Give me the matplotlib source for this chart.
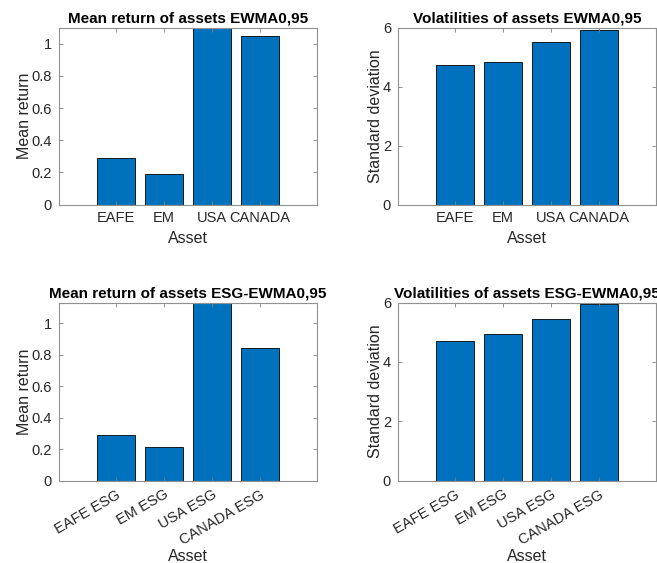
import numpy as np
import matplotlib.pyplot as plt

# === Datos ===
assets = ["EAFE", "EM", "USA", "CANADA"]
assets_esg = ["EAFE ESG", "EM ESG", "USA ESG", "CANADA ESG"]

mean_ewma = [0.29, 0.19, 1.10, 1.05]
vol_ewma = [4.75, 4.85, 5.50, 5.92]

mean_esg = [0.29, 0.21, 1.13, 0.845]
vol_esg = [4.71, 4.96, 5.46, 5.94]

# === Estilo tipo MATLAB ===
plt.rcParams["font.family"] = ["Liberation Sans", "DejaVu Sans"]
bar_color = "#0072BD"
axis_color = "#262626"

fig = plt.figure(figsize=(6.57, 5.63), dpi=100)
W, H = 657, 563


def make_ax(left, top, right, bottom):
    return fig.add_axes([left / W, 1 - bottom / H, (right - left) / W, (bottom - top) / H])


def panel(ax, labels, values, title, ylabel, ylim, yticks, rotate=False):
    x = np.arange(1, len(values) + 1)
    ax.bar(x, values, width=0.8, color=bar_color, edgecolor="black", linewidth=0.6)
    ax.set_xlim(-0.2, 5.2)
    ax.set_ylim(*ylim)
    ax.set_yticks(yticks)
    ax.set_yticklabels([f"{t:g}" for t in yticks])
    ax.set_xticks(x)
    if rotate:
        ax.set_xticklabels(labels, rotation=30, ha="right", rotation_mode="anchor")
    else:
        ax.set_xticklabels(labels)
    ax.tick_params(direction="in", top=True, right=True, length=3, width=0.6,
                   colors="#808080", labelcolor=axis_color, labelsize=10.5, pad=5)
    for s in ax.spines.values():
        s.set_color("#909090")
        s.set_linewidth(0.8)
    ax.set_title(title, fontsize=11, fontweight="bold", color="black", pad=4)
    ax.set_xlabel("Asset", fontsize=11.5, color=axis_color, labelpad=1 if rotate else 4)
    ax.set_ylabel(ylabel, fontsize=11.5, color=axis_color, labelpad=0)


ax1 = make_ax(59, 27.7, 317, 204.5)
panel(ax1, assets, mean_ewma, "Mean return of assets EWMA0,95", "Mean return",
      (0, 1.1), [0, 0.2, 0.4, 0.6, 0.8, 1])

ax2 = make_ax(398, 27.7, 656, 204.5)
panel(ax2, assets, vol_ewma, "Volatilities of assets EWMA0,95", "Standard deviation",
      (0, 6), [0, 2, 4, 6])

ax3 = make_ax(59, 302.7, 317, 480.5)
panel(ax3, assets_esg, mean_esg, "Mean return of assets ESG-EWMA0,95", "Mean return",
      (0, 1.13), [0, 0.2, 0.4, 0.6, 0.8, 1], rotate=True)

ax4 = make_ax(398, 302.7, 656, 480.5)
panel(ax4, assets_esg, vol_esg, "Volatilities of assets ESG-EWMA0,95", "Standard deviation",
      (0, 6), [0, 2, 4, 6], rotate=True)

fig.savefig("out.png", dpi=100)
